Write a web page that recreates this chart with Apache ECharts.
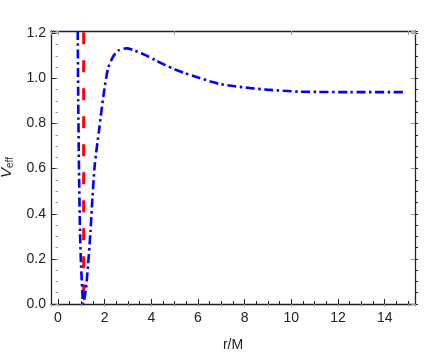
<!DOCTYPE html>
<html>
<head>
<meta charset="utf-8">
<script src="https://cdn.jsdelivr.net/npm/echarts@6/dist/echarts.min.js"></script>
<style>html,body{margin:0;padding:0;background:#fff}#c{width:448px;height:354px}</style>
</head>
<body>
<div id="c"></div>
<script>
// Effective potential curve: r/M values and V_eff values
const rValues = [0.845, 0.867, 0.90, 0.944, 0.987, 1.04, 1.075, 1.19, 1.288, 1.391, 1.476, 1.575, 1.76, 1.95, 2.146, 2.361, 2.575, 2.936, 3.292, 3.721, 4.15, 4.579, 5.009, 5.438, 5.867, 6.584, 6.94, 7.51, 8.23, 8.94, 9.66, 10.37, 11.09, 12.5, 14.92];
const vValues = [1.21, 0.904, 0.594, 0.320, 0.173, 0.062, 0.0, 0.062, 0.173, 0.320, 0.470, 0.616, 0.771, 0.925, 1.045, 1.096, 1.123, 1.133, 1.123, 1.104, 1.082, 1.060, 1.040, 1.023, 1.008, 0.985, 0.975, 0.966, 0.957, 0.950, 0.945, 0.941, 0.940, 0.939, 0.939];
// Horizon marker (red dashed vertical line), drawn from the top down
const horizonR = [1.10, 1.10];
const horizonV = [1.205, 0.0];
// Tick labels
const xTickLabels = [0, 2, 4, 6, 8, 10, 12, 14];
const yTickLabels = ['0.0', '0.2', '0.4', '0.6', '0.8', '1.0', '1.2'];

const curve = rValues.map((r, i) => [r, vValues[i]]);
const horizon = horizonR.map((r, i) => [r, horizonV[i]]);

const FONT = '"Liberation Sans", Arial, sans-serif';
const dark = '#222';
const gray = '#9a9a9a';
const PLOT_W = 448 - 51 - 33;

function xAx(extra) {
  return Object.assign({
    type: 'value', min: -0.3, max: 15.3, gridIndex: 0,
    splitLine: { show: false }, axisLabel: { show: false },
    axisLine: { show: false }, axisTick: { show: false }
  }, extra);
}
function yAx(extra) {
  return Object.assign({
    type: 'value', min: 0, max: 1.21, gridIndex: 0,
    splitLine: { show: false }, axisLabel: { show: false },
    axisLine: { show: false }, axisTick: { show: false }
  }, extra);
}

const option = {
  animation: false,
  backgroundColor: '#fff',
  grid: { left: 51, right: 33, top: 31, bottom: 50, containLabel: false, outerBoundsMode: 'none' },
  xAxis: [
    xAx({
      position: 'bottom', splitNumber: 8, minInterval: 2, maxInterval: 2,
      axisLine: { show: true, onZero: false, lineStyle: { color: dark, width: 1.3 } },
      axisTick: { show: true, inside: true, length: 5, lineStyle: { color: dark, width: 1 } },
      axisLabel: {
        show: true, margin: 7, color: dark, fontSize: 14, fontFamily: FONT,
        formatter: v => { const k = Math.round(v); return (Math.abs(v - k) < 1e-6 && xTickLabels.indexOf(k) >= 0) ? String(k) : ''; }
      },
      name: 'r/M', nameLocation: 'middle', nameGap: 34,
      nameTextStyle: { color: dark, fontSize: 14, fontFamily: FONT }
    }),
    xAx({
      position: 'bottom', offset: 0, splitNumber: 31, minInterval: 0.5, maxInterval: 0.5,
      axisTick: { show: true, inside: true, length: 3, lineStyle: { color: dark, width: 1 } }
    }),
    xAx({
      position: 'top', splitNumber: 3, minInterval: 5, maxInterval: 5,
      axisLine: { show: true, onZero: false, lineStyle: { color: dark, width: 1.3 } },
      axisTick: { show: true, inside: true, length: 4, lineStyle: { color: gray, width: 1 } }
    }),
    xAx({
      position: 'top', offset: 0, splitNumber: 15, minInterval: 1, maxInterval: 1,
      axisTick: { show: true, inside: true, length: 2.5, lineStyle: { color: gray, width: 1 } }
    })
  ],
  yAxis: [
    yAx({
      position: 'left', interval: 0.2,
      axisLine: { show: true, onZero: false, lineStyle: { color: dark, width: 1.3 } },
      axisTick: { show: true, inside: true, length: 5, lineStyle: { color: dark, width: 1 } },
      axisLabel: {
        show: true, margin: 5, color: dark, fontSize: 14, fontFamily: FONT,
        formatter: v => { const s = (Math.round(v * 100) / 100).toFixed(1); return (Math.abs(v * 5 - Math.round(v * 5)) < 1e-6 && yTickLabels.indexOf(s) >= 0) ? s : ''; }
      },
      name: '{v|V}{s|eff}', nameLocation: 'middle', nameGap: 23, nameRotate: 90,
      nameTextStyle: {
        color: dark, fontFamily: FONT,
        rich: {
          v: { fontSize: 15, fontStyle: 'italic', fontFamily: FONT, color: dark, lineHeight: 18, verticalAlign: 'middle' },
          s: { fontSize: 10, fontFamily: FONT, color: dark, lineHeight: 18, verticalAlign: 'bottom', padding: [8, 0, 0, 0] }
        }
      }
    }),
    // left-side minor ticks (a right axis shifted onto the left frame edge, ticks pointing into the plot)
    yAx({
      position: 'right', offset: -PLOT_W, interval: 0.05,
      axisTick: { show: true, inside: false, length: 3, lineStyle: { color: dark, width: 1 } }
    }),
    yAx({
      position: 'right', interval: 0.2,
      axisLine: { show: true, onZero: false, lineStyle: { color: dark, width: 1.3 } },
      axisTick: { show: true, inside: true, length: 4, lineStyle: { color: gray, width: 1 } }
    }),
    yAx({
      position: 'right', offset: 0, interval: 0.05,
      axisTick: { show: true, inside: true, length: 2.5, lineStyle: { color: gray, width: 1 } }
    })
  ],
  series: [
    {
      type: 'line', xAxisIndex: 0, yAxisIndex: 0, data: horizon,
      showSymbol: false, symbol: 'none', clip: true,
      lineStyle: { color: '#ff0000', width: 3, type: [12, 16] }
    },
    {
      type: 'line', xAxisIndex: 0, yAxisIndex: 0, data: curve,
      showSymbol: false, symbol: 'none', clip: true, smooth: 0.25,
      lineStyle: { color: '#0000ff', width: 2.6, type: [9, 3.5, 2.5, 3.5] }
    }
  ]
};

const chart = echarts.init(document.getElementById('c'), null, { renderer: 'canvas' });
chart.setOption(option);
</script>
</body>
</html>
